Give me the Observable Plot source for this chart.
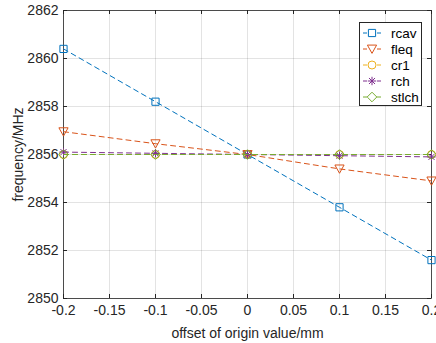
<!DOCTYPE html>
<html><head><meta charset="utf-8">
<script src="https://cdn.jsdelivr.net/npm/d3@7"></script>
<script src="https://cdn.jsdelivr.net/npm/@observablehq/plot@0.6"></script>
<style>
body{margin:0;background:#fff;font-family:"Liberation Sans",Arial,sans-serif;}
#wrap{position:relative;width:436px;height:343px;overflow:hidden;background:#fff}
#legend{position:absolute;left:359px;top:22px;width:63px;height:84px;border:1px solid #262626;background:#fff;box-sizing:border-box;padding-top:2px}
.row{display:flex;align-items:center;height:16px;font-size:13.5px;color:#000}
.row svg{flex:none;margin-right:5px}
</style></head><body><div id="wrap"></div>
<script>
const offsets = [-0.2, -0.1, 0, 0.1, 0.2];
const seriesNames = ["rcav", "fleq", "cr1", "rch", "stlch"];
const rcav  = [2860.4, 2858.2, 2856.0, 2853.8, 2851.6];
const fleq  = [2856.95, 2856.45, 2856.0, 2855.4, 2854.9];
const cr1   = [2856.0, 2856.0, 2856.0, 2856.0, 2856.0];
const rch   = [2856.1, 2856.05, 2856.0, 2855.95, 2855.9];
const stlch = [2856.0, 2856.0, 2856.0, 2856.0, 2856.0];
const colors = ["#0072BD", "#D95319", "#EDB120", "#7E2F8E", "#77AC30"];
const xTicks = [-0.2, -0.15, -0.1, -0.05, 0, 0.05, 0.1, 0.15, 0.2];
const xTickLabels = ["-0.2", "-0.15", "-0.1", "-0.05", "0", "0.05", "0.1", "0.15", "0.2"];
const yTicks = [2850, 2852, 2854, 2856, 2858, 2860, 2862];
const yTickLabels = ["2850", "2852", "2854", "2856", "2858", "2860", "2862"];

const W = 436, H = 343, mt = 10, mb = 45, ml = 63, mr = 5;
const frameH = H - mt - mb, frameW = W - ml - mr;
const tickLen = 4;

const seriesValues = [rcav, fleq, cr1, rch, stlch];
const data = [];
seriesNames.forEach((s, i) => offsets.forEach((x, j) => data.push({series: s, x, y: seriesValues[i][j]})));

const diamond = {draw(ctx, size){const r = Math.sqrt(size/Math.PI)*1.2; ctx.moveTo(0,-r); ctx.lineTo(r,0); ctx.lineTo(0,r); ctx.lineTo(-r,0); ctx.closePath();}};
const asterisk = {draw(ctx, size){const r = Math.sqrt(size/Math.PI); const d = r*0.72;
  ctx.moveTo(-r,0); ctx.lineTo(r,0); ctx.moveTo(0,-r); ctx.lineTo(0,r);
  ctx.moveTo(-d,-d); ctx.lineTo(d,d); ctx.moveTo(-d,d); ctx.lineTo(d,-d);}};
const square = {draw(ctx, size){const r = Math.sqrt(size/Math.PI)*0.9; ctx.rect(-r,-r,2*r,2*r);}};
const triDown = {draw(ctx, size){const r = Math.sqrt(size/Math.PI)*1.15; ctx.moveTo(-r,-r*0.85); ctx.lineTo(r,-r*0.85); ctx.lineTo(0,r*0.95); ctx.closePath();}};
const circle = {draw(ctx, size){const r = Math.sqrt(size/Math.PI); ctx.moveTo(r,0); ctx.arc(0,0,r,0,2*Math.PI);}};
const symbols = [square, triDown, circle, asterisk, diamond];
const radii = [4, 4, 4, 4.2, 4];

const fmtX = d => xTickLabels[xTicks.indexOf(d)];
const fmtY = d => yTickLabels[yTicks.indexOf(d)];

const marks = [
  Plot.gridX(xTicks, {stroke: "#262626", strokeOpacity: 0.13}),
  Plot.gridY(yTicks, {stroke: "#262626", strokeOpacity: 0.13}),
  Plot.axisX(xTicks, {anchor: "bottom", tickSize: 0, tickPadding: 7, tickFormat: fmtX, fontSize: 14, fill: "#262626", label: "offset of origin value/mm", labelAnchor: "center", labelArrow: false, labelOffset: 39}),
  Plot.axisY(yTicks, {anchor: "left", tickSize: 0, tickPadding: 5, tickFormat: fmtY, fontSize: 14, fill: "#262626", label: "frequency/MHz", labelAnchor: "center", labelArrow: false, labelOffset: 50}),
  Plot.ruleX(xTicks, {stroke: "#262626", insetTop: frameH - tickLen}),
  Plot.ruleX(xTicks, {stroke: "#262626", insetBottom: frameH - tickLen}),
  Plot.ruleY(yTicks, {stroke: "#262626", insetRight: frameW - tickLen}),
  Plot.ruleY(yTicks, {stroke: "#262626", insetLeft: frameW - tickLen}),
  Plot.frame({stroke: "#262626", strokeWidth: 0.8})
];
seriesNames.forEach((s, i) => {
  const d = data.filter(r => r.series === s);
  marks.push(Plot.line(d, {x: "x", y: "y", stroke: colors[i], strokeWidth: 1, strokeDasharray: "5,4"}));
  marks.push(Plot.dot(d, {x: "x", y: "y", stroke: colors[i], fill: "none", strokeWidth: 1, symbol: symbols[i], r: radii[i]}));
});

const chart = Plot.plot({
  width: W, height: H,
  marginTop: mt, marginBottom: mb, marginLeft: ml, marginRight: mr,
  style: {fontFamily: '"Liberation Sans", Arial, sans-serif', fontSize: "14px", background: "#fff", overflow: "visible"},
  x: {domain: [xTicks[0], xTicks[xTicks.length-1]]},
  y: {domain: [yTicks[0], yTicks[yTicks.length-1]]},
  marks
});
const wrap = document.getElementById("wrap");
wrap.appendChild(chart);

// legend
const legend = document.createElement("div");
legend.id = "legend";
seriesNames.forEach((s, i) => {
  const row = document.createElement("div");
  row.className = "row";
  const svg = d3.create("svg").attr("width", 24).attr("height", 16).style("margin-left", "2px");
  svg.append("line").attr("x1", 1).attr("x2", 5).attr("y1", 8).attr("y2", 8).attr("stroke", colors[i]);
  svg.append("line").attr("x1", 15).attr("x2", 19).attr("y1", 8).attr("y2", 8).attr("stroke", colors[i]);
  svg.append("path").attr("transform", "translate(10,8)")
    .attr("d", d3.symbol(symbols[i], radii[i]*radii[i]*Math.PI)())
    .attr("fill", "none").attr("stroke", colors[i]);
  row.appendChild(svg.node());
  const t = document.createElement("span");
  t.textContent = s;
  row.appendChild(t);
  legend.appendChild(row);
});
wrap.appendChild(legend);
</script>
</body></html>
